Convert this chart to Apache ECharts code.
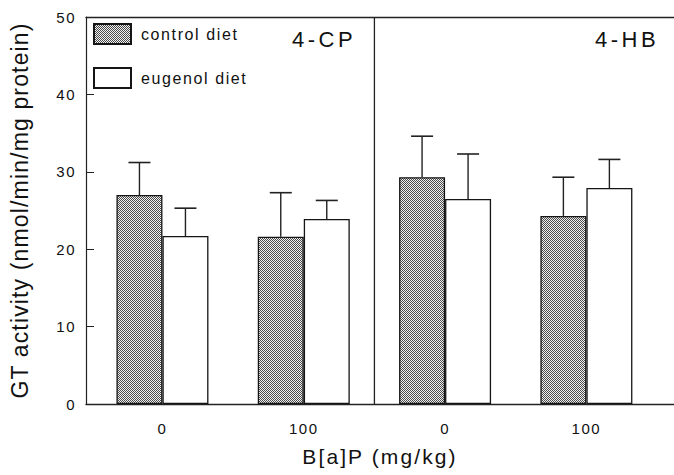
<!DOCTYPE html>
<html>
<head>
<meta charset="utf-8">
<script src="https://cdn.jsdelivr.net/npm/echarts@6/dist/echarts.min.js"></script>
<style>
html, body { margin: 0; padding: 0; background: #fff; overflow: hidden; }
#chart { width: 674px; height: 475px; }
</style>
</head>
<body>
<div id="chart"></div>
<script>
// ---- data ----
const categories = ['0', '100', '0', '100'];           // B[a]P dose (mg/kg) per panel
const panelLabels = ['4-CP', '4-HB'];
const seriesNames = ['control diet', 'eugenol diet'];
const controlMean = [27.0, 21.6, 29.3, 24.3];
const controlSD   = [4.2, 5.7, 5.3, 5.0];
const eugenolMean = [21.7, 23.9, 26.5, 27.9];
const eugenolSD   = [3.6, 2.4, 5.8, 3.7];
const yTicks = [0, 10, 20, 30, 40, 50];

const FONT = "'Liberation Sans', Arial, Helvetica, sans-serif";
const INK = '#111';

// halftone-like fill for the control bars
function makePattern() {
  const c = document.createElement('canvas');
  c.width = 2; c.height = 2;
  const ctx = c.getContext('2d');
  ctx.fillStyle = '#f2f2f2'; ctx.fillRect(0, 0, 2, 2);
  ctx.fillStyle = '#4a4a4a'; ctx.fillRect(0, 0, 1, 1); ctx.fillRect(1, 1, 1, 1);
  return { image: c, repeat: 'repeat', imageWidth: 2, imageHeight: 2 };
}
const pattern = makePattern();

const dom = document.getElementById('chart');
const chart = echarts.init(dom, null, { renderer: 'svg', width: 674, height: 475 });

const BAR_W = 46;
function errorSeries(name, means, sds, side) {
  return {
    type: 'custom',
    name: name + ' error',
    silent: true,
    z: 5,
    data: means.map((m, i) => [i, m, sds[i]]),
    renderItem: function (params, api) {
      const i = api.value(0), m = api.value(1), sd = api.value(2);
      const base = api.coord([i, m]);
      const top = api.coord([i, m + sd]);
      const x = base[0] + side * BAR_W / 2;
      return {
        type: 'group',
        children: [
          { type: 'line', shape: { x1: x, y1: base[1], x2: x, y2: top[1] },
            style: { stroke: '#222', lineWidth: 1.4 } },
          { type: 'line', shape: { x1: x - 11, y1: top[1], x2: x + 11, y2: top[1] },
            style: { stroke: '#222', lineWidth: 1.6 } }
        ]
      };
    }
  };
}

const dividerAt = (categories.length - 1) / 2;   // between the 4-CP and 4-HB panels

const option = {
  animation: false,
  backgroundColor: '#fff',
  textStyle: { fontFamily: FONT, color: INK },
  grid: { left: 86, right: 0, top: 17, bottom: 71, containLabel: false },
  legend: {
    orient: 'vertical',
    left: 93, top: 23,
    padding: 0,
    itemWidth: 37, itemHeight: 20, itemGap: 22,
    icon: 'rect',
    selectedMode: false,
    data: seriesNames,
    textStyle: { fontFamily: FONT, fontSize: 16, color: INK, padding: [0, 0, 0, 5] }
  },
  xAxis: [{
    type: 'value',
    min: -0.541, max: 3.62,
    position: 'bottom',
    name: 'B[a]P (mg/kg)',
    nameLocation: 'middle',
    nameGap: 42,
    nameTextStyle: { fontFamily: FONT, fontSize: 21, color: INK },
    axisLine: { show: true, onZero: false, lineStyle: { color: '#222', width: 1.3 } },
    axisTick: { show: false },
    splitLine: { show: false },
    axisLabel: {
      customValues: categories.map((c, i) => i),
      formatter: v => categories[Math.round(v)],
      margin: 17, fontFamily: FONT, fontSize: 15, color: INK
    }
  }, {
    type: 'value',
    min: -0.541, max: 3.62,
    position: 'top',
    axisLine: { show: true, onZero: false, lineStyle: { color: '#222', width: 1.3 } },
    axisTick: { show: false }, axisLabel: { show: false }, splitLine: { show: false }
  }],
  yAxis: {
    type: 'value',
    min: yTicks[0], max: yTicks[yTicks.length - 1], interval: 10,
    name: 'GT activity (nmol/min/mg protein)',
    nameLocation: 'middle',
    nameGap: 55,
    nameTextStyle: { fontFamily: FONT, fontSize: 23, color: INK },
    axisLine: { show: true, onZero: false, lineStyle: { color: '#222', width: 1.2 } },
    axisTick: { show: true, inside: true, length: 8, lineStyle: { color: '#222', width: 1 } },
    splitLine: { show: false },
    axisLabel: { margin: 10, fontFamily: FONT, fontSize: 15, color: INK }
  },
  graphic: [
    { type: 'text', x: 324, y: 39, style: { text: panelLabels[0], fontFamily: FONT, fontSize: 22, fill: INK, textAlign: 'center', textVerticalAlign: 'middle' } },
    { type: 'text', x: 627, y: 39, style: { text: panelLabels[1], fontFamily: FONT, fontSize: 22, fill: INK, textAlign: 'center', textVerticalAlign: 'middle' } }
  ],
  series: [
    {
      type: 'bar', name: seriesNames[0],
      barWidth: BAR_W, barGap: '0%',
      data: controlMean.map((v, i) => [i, v]),
      itemStyle: { color: pattern, borderColor: '#151515', borderWidth: 1.3 }
    },
    {
      type: 'bar', name: seriesNames[1],
      barWidth: BAR_W, barGap: '0%',
      data: eugenolMean.map((v, i) => [i, v]),
      itemStyle: { color: '#fff', borderColor: '#151515', borderWidth: 1.3 }
    },
    errorSeries(seriesNames[0], controlMean, controlSD, -1),
    errorSeries(seriesNames[1], eugenolMean, eugenolSD, 1),
    {
      type: 'line', name: 'divider', silent: true, symbol: 'none',
      data: [[dividerAt, yTicks[0]], [dividerAt, yTicks[yTicks.length - 1]]],
      lineStyle: { color: '#222', width: 1.3 },
      z: 6
    }
  ]
};

chart.setOption(option);

// widen tracking of the text a little, as in the typeset original
function applySpacing() {
  const map = { 15: 0.1, 16: 0.1, 21: 0.1, 22: 0.16, 23: 0.05 };
  dom.querySelectorAll('text').forEach(t => {
    const fs = parseFloat(getComputedStyle(t).fontSize);
    const k = map[Math.round(fs)];
    if (k) t.style.letterSpacing = (k * fs).toFixed(2) + 'px';
  });
}
applySpacing();
chart.on('finished', applySpacing);
</script>
</body>
</html>
